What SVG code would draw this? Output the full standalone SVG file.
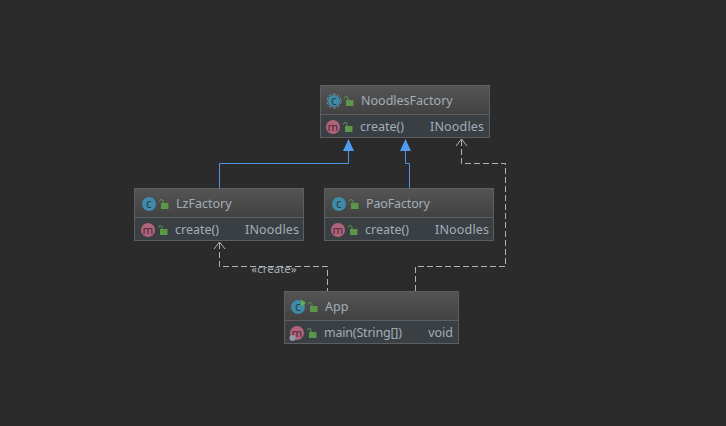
<svg xmlns="http://www.w3.org/2000/svg" width="726" height="426" viewBox="0 0 726 426">
<style>
.box{fill:#3a3f44;stroke:#5c5f61;stroke-width:1}
.head{fill:url(#hg)}
.div{stroke:#5c5f61;stroke-width:1}
text{font-family:"Noto Sans","Open Sans","Liberation Sans",sans-serif;font-size:12.500px;fill:#a3adb7}
.ic{font-size:12px;fill:#24404f;text-anchor:middle}
.im{font-size:11.500px;fill:#47262f;text-anchor:middle}
.ret{text-anchor:end}
.c{fill:#3f8aa8}
.m{fill:#b0647c}
.lock{fill:#5c9648}
.shackle{fill:none;stroke:#5c9648;stroke-width:1}
.gen{fill:none;stroke:#4f94e4;stroke-width:1}
.dep{fill:none;stroke:#b4b4b4;stroke-width:1;stroke-dasharray:6 3}
.open{fill:none;stroke:#b4b4b4;stroke-width:1}
.tri{fill:#4f9cf0}
</style>
<defs>
<linearGradient id="hg" x1="0" y1="0" x2="0" y2="1"><stop offset="0" stop-color="#545454"/><stop offset="1" stop-color="#424242"/></linearGradient>
<g id="lk"><rect x="0" y="3" width="7.500" height="6" class="lock"/><path d="M2 3V1Q2 -0.500 0 -0.500Q-1.500 -0.500 -1.500 1.500" class="shackle"/></g>
</defs>
<rect width="726" height="426" fill="#2b2b2b"/>
<g id="connectors">
<path class="gen" d="M219.500 188V163.500H348.500V150"/>
<path class="gen" d="M409.500 188V163.500H405.500V150"/>
<polygon class="tri" points="348.500,139 343,151 354,151"/>
<polygon class="tri" points="405.500,139 400,151 411,151"/>
<path class="dep" d="M461.500 140V163.500H505.500V266.500H415.500V291"/>
<path class="open" d="M456 146L461.500 139L467 146"/>
<path class="dep" d="M219.500 243V266.500H327.500V291"/>
<path class="open" d="M214 249L219.500 242L225 249"/>
<text x="274" y="273" text-anchor="middle" style="font-size:11.500px">«create»</text>
</g>
<g id="NoodlesFactory">
<rect class="box" x="320.500" y="85.500" width="169" height="52"/>
<rect class="head" x="321" y="86" width="168" height="28"/>
<line class="div" x1="321" y1="114.500" x2="489" y2="114.500"/>
<circle class="c" cx="334" cy="101" r="6"/><circle cx="334" cy="101" r="7" fill="none" stroke="#7f8a90" stroke-width="1" stroke-dasharray="3 1.500"/><text class="ic" x="334" y="105">c</text>
<use href="#lk" x="346" y="97"/>
<text x="361" y="105">NoodlesFactory</text>
<circle class="m" cx="333" cy="127" r="7"/><text class="im" x="333" y="131">m</text>
<use href="#lk" x="345" y="123"/>
<text x="360" y="131">create()</text>
<text class="ret" x="484" y="131" textLength="54">INoodles</text>
</g>
<g id="LzFactory">
<rect class="box" x="134.500" y="188.500" width="169" height="52"/>
<rect class="head" x="135" y="189" width="168" height="28"/>
<line class="div" x1="135" y1="217.500" x2="303" y2="217.500"/>
<circle class="c" cx="149" cy="204" r="7"/><text class="ic" x="149" y="208">c</text>
<use href="#lk" x="161" y="200"/>
<text x="176" y="208">LzFactory</text>
<circle class="m" cx="148" cy="230" r="7"/><text class="im" x="148" y="234">m</text>
<use href="#lk" x="160" y="226"/>
<text x="175" y="234">create()</text>
<text class="ret" x="299" y="234" textLength="54">INoodles</text>
</g>
<g id="PaoFactory">
<rect class="box" x="324.500" y="188.500" width="169" height="52"/>
<rect class="head" x="325" y="189" width="168" height="28"/>
<line class="div" x1="325" y1="217.500" x2="493" y2="217.500"/>
<circle class="c" cx="339" cy="204" r="7"/><text class="ic" x="339" y="208">c</text>
<use href="#lk" x="351" y="200"/>
<text x="366" y="208" textLength="64">PaoFactory</text>
<circle class="m" cx="338" cy="230" r="7"/><text class="im" x="338" y="234">m</text>
<use href="#lk" x="350" y="226"/>
<text x="365" y="234">create()</text>
<text class="ret" x="489" y="234" textLength="54">INoodles</text>
</g>
<g id="App">
<rect class="box" x="284.500" y="291.500" width="174" height="52"/>
<rect class="head" x="285" y="292" width="173" height="28"/>
<line class="div" x1="285" y1="320.500" x2="458" y2="320.500"/>
<circle class="c" cx="298" cy="307" r="7"/><text class="ic" x="298" y="311">c</text>
<polygon points="301,299.500 306,303 301,306.500" fill="#5fb14a"/>
<use href="#lk" x="310" y="303"/>
<text x="325" y="311">App</text>
<circle class="m" cx="297" cy="333" r="7"/><text class="im" x="297" y="337">m</text>
<circle cx="292.500" cy="338" r="3" fill="#8f9aa5"/>
<use href="#lk" x="309" y="329"/>
<text x="324" y="337" textLength="78">main(String[])</text>
<text class="ret" x="453" y="337">void</text>
</g>
</svg>
